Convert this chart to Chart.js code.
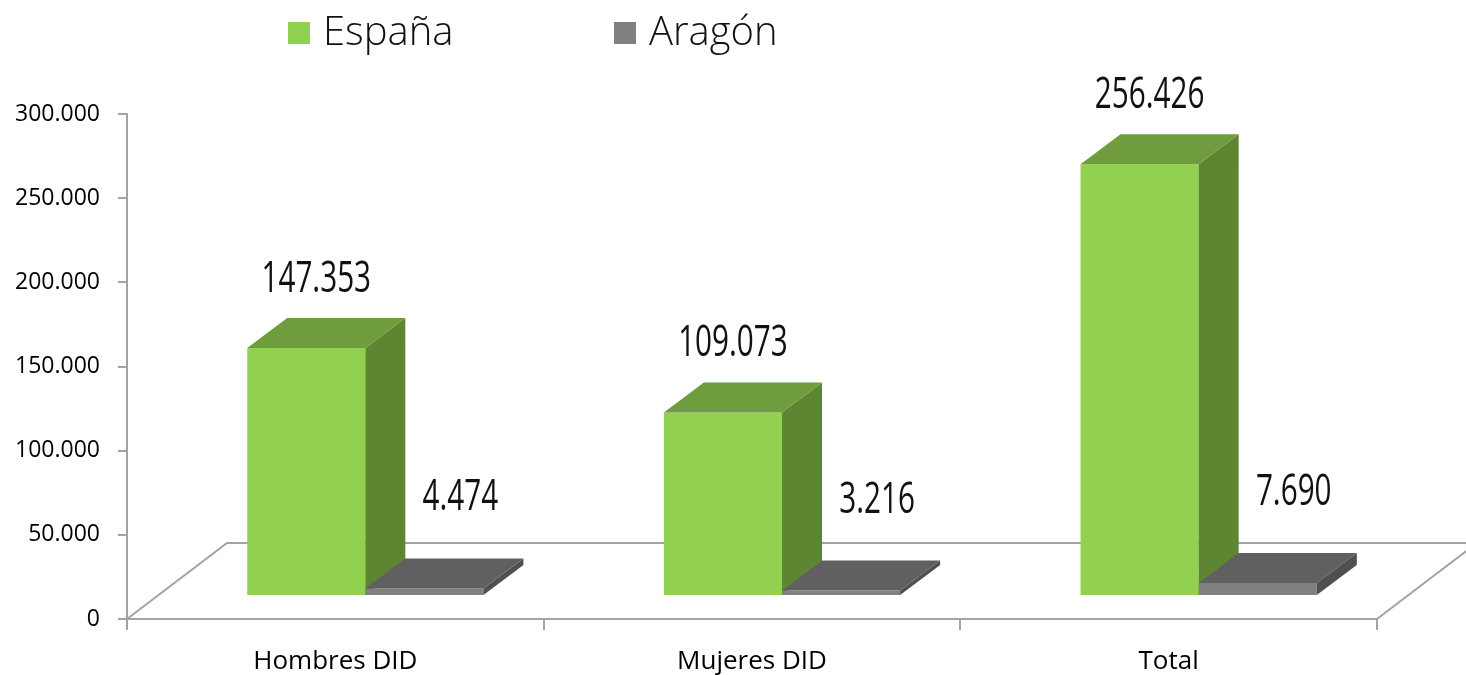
<!DOCTYPE html>
<html lang="es">
<head>
    <meta charset="UTF-8">
    <title>España / Aragón DID</title>
    <style>
        body {
            margin: 0;
            background-color: #fff;
        }
        #wrap {
            width: 1466px;
            height: 675px;
        }
    </style>
    <script src="https://cdn.jsdelivr.net/npm/chart.js"></script>
</head>
<body>
    <div id="wrap"><canvas id="didChart"></canvas></div>

    <script>
        const categories = ['Hombres DID', 'Mujeres DID', 'Total'];
        const seriesNames = ['España', 'Aragón'];
        const espana = [147353, 109073, 256426];
        const aragon = [4474, 3216, 7690];
        const yTicks = [0, 50000, 100000, 150000, 200000, 250000, 300000];

        // front / top / side colours of each series
        const faceColors = [
            { front: '#92d050', top: '#6f9c3c', side: '#5e8531' },
            { front: '#808080', top: '#606060', side: '#4f4f4f' }
        ];

        const axisGrey = '#a3a3a3';
        const floorDepth = { x: 100, y: 76 };
        const barShift = { x: 30, y: 23 };
        const barDepth = { x: 40, y: 30 };

        function fmt(v) {
            return v.toLocaleString('de-DE');
        }

        function poly(ctx, pts, color) {
            ctx.beginPath();
            ctx.moveTo(pts[0][0], pts[0][1]);
            for (let i = 1; i < pts.length; i++) ctx.lineTo(pts[i][0], pts[i][1]);
            ctx.closePath();
            ctx.fillStyle = color;
            ctx.fill();
        }

        const bars3d = {
            id: 'bars3d',
            beforeDatasetsDraw(chart) {
                const ctx = chart.ctx;
                const a = chart.chartArea;

                // floor outline (front edge is the x axis border)
                ctx.save();
                ctx.strokeStyle = axisGrey;
                ctx.lineWidth = 2;
                ctx.beginPath();
                ctx.moveTo(a.left, a.bottom);
                ctx.lineTo(a.left + floorDepth.x, a.bottom - floorDepth.y);
                ctx.lineTo(a.right + floorDepth.x * 2, a.bottom - floorDepth.y);
                ctx.moveTo(a.right, a.bottom);
                ctx.lineTo(a.right + floorDepth.x, a.bottom - floorDepth.y);
                ctx.stroke();
                ctx.restore();

                const metas = chart.data.datasets.map((d, i) => chart.getDatasetMeta(i));
                for (let c = 0; c < categories.length; c++) {
                    metas.forEach((meta, s) => {
                        const bar = meta.data[c];
                        const col = faceColors[s];
                        const x0 = bar.x - bar.width / 2 + barShift.x;
                        const x1 = bar.x + bar.width / 2 + barShift.x;
                        const yt = bar.y - barShift.y;
                        const yb = bar.base - barShift.y;
                        const dx = barDepth.x, dy = barDepth.y;
                        poly(ctx, [[x0, yt], [x1, yt], [x1, yb], [x0, yb]], col.front);
                        poly(ctx, [[x1, yt], [x1 + dx, yt - dy], [x1 + dx, yb - dy], [x1, yb]], col.side);
                        poly(ctx, [[x0, yt], [x0 + dx, yt - dy], [x1 + dx, yt - dy], [x1, yt]], col.top);
                    });
                }

                // value labels
                ctx.save();
                ctx.fillStyle = '#111';
                ctx.textAlign = 'center';
                ctx.textBaseline = 'alphabetic';
                ctx.font = '400 43px "Open Sans"';
                metas.forEach((meta, s) => {
                    meta.data.forEach((bar, c) => {
                        const v = chart.data.datasets[s].data[c];
                        const backTop = bar.y - barShift.y - barDepth.y;
                        const cx = s === 0
                            ? bar.x + barShift.x + 10
                            : bar.x + barShift.x + barDepth.x - 4;
                        const cy = s === 0 ? backTop - 26 : Math.min(backTop - 48, 513);
                        ctx.save();
                        ctx.translate(cx, cy);
                        ctx.scale(0.69, 1);
                        ctx.fillText(fmt(v), 0, 0);
                        ctx.restore();
                    });
                });
                ctx.restore();

                return false;
            },
            afterDraw(chart) {
                // legend on top
                const ctx = chart.ctx;
                const items = [
                    { x: 288, label: seriesNames[0], color: faceColors[0].front },
                    { x: 614, label: seriesNames[1], color: faceColors[1].front }
                ];
                ctx.save();
                ctx.font = '300 40px "Open Sans"';
                ctx.textBaseline = 'alphabetic';
                ctx.textAlign = 'left';
                items.forEach(it => {
                    ctx.fillStyle = it.color;
                    ctx.fillRect(it.x, 22, 22, 22);
                    ctx.fillStyle = '#111';
                    ctx.fillText(it.label, it.x + 35, 45);
                });
                ctx.restore();
            }
        };

        new Chart(document.getElementById('didChart'), {
            type: 'bar',
            data: {
                labels: categories,
                datasets: [
                    { label: seriesNames[0], data: espana, backgroundColor: faceColors[0].front },
                    { label: seriesNames[1], data: aragon, backgroundColor: faceColors[1].front }
                ]
            },
            options: {
                responsive: true,
                maintainAspectRatio: false,
                animation: false,
                events: [],
                layout: { padding: { top: 114, right: 89, left: 0, bottom: 0 } },
                datasets: {
                    bar: { categoryPercentage: 0.567, barPercentage: 1 }
                },
                scales: {
                    x: {
                        offset: true,
                        grid: {
                            offset: true,
                            drawOnChartArea: false,
                            drawTicks: true,
                            tickLength: 11,
                            color: axisGrey,
                            lineWidth: 2
                        },
                        border: { display: true, color: axisGrey, width: 2 },
                        ticks: {
                            color: '#000',
                            font: { family: '"Open Sans"', size: 26 },
                            padding: 16
                        },
                        afterFit(scale) { scale.height = 56; }
                    },
                    y: {
                        min: 0,
                        max: 300000,
                        afterBuildTicks(scale) {
                            scale.ticks = yTicks.map(v => ({ value: v }));
                        },
                        grid: {
                            drawOnChartArea: false,
                            drawTicks: true,
                            tickLength: 9,
                            color: axisGrey,
                            lineWidth: 2
                        },
                        border: { display: true, color: axisGrey, width: 2 },
                        ticks: {
                            color: '#000',
                            font: { family: '"Open Sans"', size: 23 },
                            padding: 18,
                            callback: v => fmt(v)
                        },
                        afterFit(scale) { scale.width = 127; }
                    }
                },
                plugins: {
                    legend: { display: false },
                    tooltip: { enabled: false }
                }
            },
            plugins: [bars3d]
        });
    </script>
</body>
</html>
